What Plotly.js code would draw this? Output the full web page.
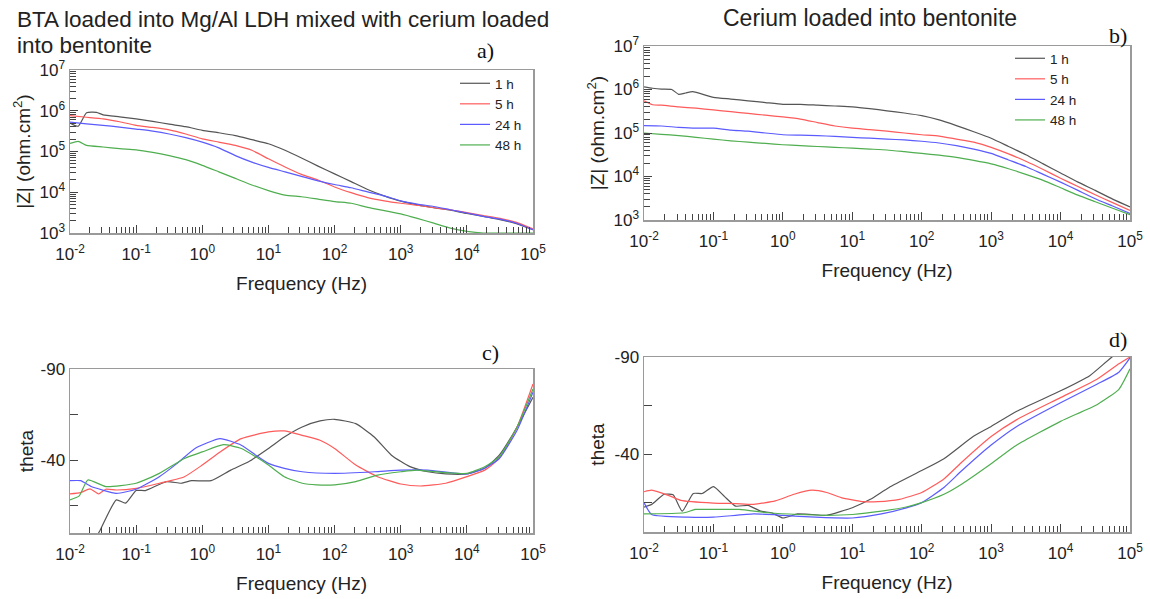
<!DOCTYPE html>
<html><head><meta charset="utf-8">
<script src="https://cdn.plot.ly/plotly-3.0.1.min.js"></script>
<style>html,body{margin:0;padding:0;background:#fff}#chart{width:1150px;height:599px}</style>
</head><body><div id="chart"></div>
<script>
// ---------- Data ----------
const seriesNames = ['1 h', '5 h', '24 h', '48 h'];
const freqQ = [0.01,0.0178,0.0316,0.0562,0.1,0.178,0.316,0.562,1,1.78,3.16,5.62,10,17.8,31.6,56.2,100,178,316,562,1000,1780,3160,5620,10000,17800,31600,56200,100000];
const freqQb = [0.01,0.0133,0.0178,0.0316,0.0562,0.1,0.178,0.316,0.562,1,1.78,3.16,5.62,10,17.8,31.6,56.2,100,178,316,562,1000,1780,3160,5620,10000,17800,31600,56200,100000];

// a) |Z| BTA-LDH + Ce-bentonite
const aFreq1 = [0.01,0.0133,0.0178,0.0251,0.0316,0.0562,0.1,0.178,0.316,0.562,1,1.78,3.16,5.62,10,17.8,31.6,56.2,100,178,316,562,1000,1780,3160,5620,10000,17800,31600,56200,100000];
const aZ1 = [5.01e5,4.17e5,8.91e5,9.12e5,7.94e5,7.08e5,6.31e5,5.50e5,4.68e5,4.07e5,3.31e5,2.88e5,2.45e5,1.95e5,1.55e5,1.07e5,6.92e4,4.37e4,2.82e4,1.82e4,1.17e4,8130,6030,4900,4170,3630,3020,2570,2140,1700,1200];
const aZ5 = [7.59e5,6.92e5,6.31e5,5.37e5,4.37e5,3.89e5,3.39e5,2.69e5,2.04e5,1.70e5,1.41e5,1.07e5,6.61e4,4.17e4,2.75e4,2.00e4,1.35e4,9770,7410,6170,5370,4790,4170,3720,3160,2690,2290,1820,1260];
const aZ24 = [5.25e5,4.79e5,4.37e5,3.98e5,3.55e5,3.16e5,2.69e5,2.19e5,1.70e5,1.23e5,7.94e4,5.50e4,4.07e4,3.16e4,2.45e4,1.91e4,1.55e4,1.29e4,1.02e4,8130,6170,5130,4470,3720,3090,2570,2190,1740,1200];
const aZ48 = [1.58e5,1.78e5,1.41e5,1.29e5,1.17e5,1.10e5,9.55e4,7.94e4,6.31e4,4.57e4,3.16e4,2.19e4,1.51e4,1.10e4,8510,7760,6760,5890,5370,4270,3550,2950,2290,1740,1320,1100,1000,1000,1000,1000];

// b) |Z| Ce-bentonite
const bFreq1 = [0.01,0.0133,0.0178,0.0251,0.0316,0.0398,0.0501,0.1,0.178,0.316,0.562,1,1.78,3.16,5.62,10,17.8,31.6,56.2,100,178,316,562,1000,1780,3160,5620,10000,17800,31600,56200,100000];
const bZ1 = [1.15e6,1.07e6,1.02e6,1.00e6,7.76e5,8.32e5,8.91e5,6.61e5,6.03e5,5.50e5,5.01e5,4.57e5,4.57e5,4.37e5,4.17e5,3.98e5,3.63e5,3.24e5,2.88e5,2.51e5,2.00e5,1.48e5,1.07e5,7.59e4,4.90e4,3.16e4,1.95e4,1.20e4,7410,4790,3020,2000];
const bZ5 = [5.50e5,4.47e5,4.37e5,3.98e5,3.72e5,3.39e5,3.09e5,2.82e5,2.57e5,2.34e5,2.09e5,1.74e5,1.45e5,1.29e5,1.20e5,1.10e5,1.00e5,9.12e4,8.51e4,7.24e4,6.17e4,4.68e4,3.31e4,2.24e4,1.45e4,9120,5890,3800,2510,1660];
const bZ24 = [1.48e5,1.45e5,1.35e5,1.29e5,1.29e5,1.17e5,1.10e5,1.00e5,9.12e4,8.91e4,8.71e4,8.32e4,7.94e4,7.59e4,7.24e4,6.92e4,6.46e4,5.89e4,5.13e4,4.27e4,3.39e4,2.40e4,1.70e4,1.12e4,7410,4790,3090,2090,1410];
const bZ48 = [1.00e5,9.33e4,8.71e4,7.94e4,7.24e4,6.61e4,6.17e4,5.75e4,5.37e4,5.13e4,4.90e4,4.68e4,4.47e4,4.27e4,4.07e4,3.72e4,3.39e4,3.09e4,2.75e4,2.34e4,1.95e4,1.51e4,1.12e4,8130,5500,3720,2630,1860,1320];

// c) phase BTA-LDH + Ce-bentonite
const cFreq1 = [0.0251,0.0288,0.0501,0.0692,0.1,0.138,0.288,0.479,0.692,1.36,2.69,5.01,10,17.4,32.4,60.3,100,209,398,724,1380,2570,4790,10000,18600,30900,57500,100000];
const cTh1 = [2,-1.8,-18.2,-16.4,-23.3,-23.3,-28.2,-27.3,-28.7,-28.7,-34.5,-39.1,-46.4,-52.7,-58.2,-61.5,-62.4,-60,-52.7,-42.7,-36.4,-33.6,-32.4,-32.4,-35.5,-42.7,-58.2,-74.5];
const cFreq5 = [0.01,0.0145,0.02,0.0269,0.0347,0.0501,0.1,0.224,0.537,1,1.86,3.89,10,17.4,32.4,60.3,100,209,447,1000,2000,4790,10000,18600,30900,57500,100000];
const cTh5 = [-21.5,-22.2,-24.2,-21.5,-24,-23.6,-24.5,-27.3,-30.9,-37.3,-44.5,-51.8,-55.5,-56,-53.6,-50.9,-46.4,-37.3,-30.9,-26.9,-25.8,-27.3,-30.9,-34.5,-40.9,-58.2,-81.8];
const cFreq24 = [0.01,0.0145,0.0209,0.0501,0.1,0.224,0.417,0.776,1.86,3.89,6.46,10,17.4,32.4,100,398,1000,2570,10000,18600,30900,57500,100000];
const cTh24 = [-28.7,-28.7,-25.5,-21.8,-24,-30.9,-38.2,-46.4,-51.8,-48.2,-42.7,-38.2,-35.5,-33.6,-32.7,-33.6,-34.5,-34.5,-32.4,-35.5,-40.9,-56.4,-77.3];
const cFreq48 = [0.01,0.0138,0.0186,0.0347,0.1,0.224,0.537,1,2.09,3.89,6.46,10,17.4,32.4,53.7,100,209,447,1000,1740,4790,10000,18600,30900,57500,100000];
const cTh48 = [-18.2,-20.4,-29.1,-25.5,-27.3,-32.7,-40.9,-44.5,-48.5,-46.4,-41.8,-37.3,-30.9,-27.3,-26.4,-26.4,-28.2,-31.8,-33.6,-34.5,-33.1,-32.7,-36.4,-41.8,-58.2,-79];

// d) phase Ce-bentonite
const dFreq1 = [0.01,0.0129,0.0195,0.0263,0.0355,0.0513,0.0692,0.1,0.145,0.209,0.316,0.479,0.692,1,1.62,2.63,4.27,10,18.2,33.9,100,209,550,1000,2340,10000,26300,55000,100000];
const dTh1 = [-12.8,-14.2,-19.4,-19.1,-10.7,-19.8,-19.8,-23.3,-18.2,-13.3,-13.7,-10.7,-9.9,-7.2,-9.3,-9.0,-8.6,-12.5,-16.8,-22.9,-31.6,-37.7,-49.1,-54.3,-62.1,-72.6,-80.4,-90,-96];
const dFreq5 = [0.01,0.0129,0.0234,0.0339,0.1,0.209,0.38,0.776,1.45,2.63,4.27,6.92,14.5,23.4,47.9,100,209,380,1000,2340,10000,33900,69200,100000];
const dTh5 = [-20.7,-21.5,-18.6,-16.3,-14.9,-14.6,-14.2,-16.0,-19.4,-21.5,-20.3,-17.7,-15.6,-15.6,-16.8,-20.3,-27.3,-36.0,-49.1,-57.8,-69.1,-78.7,-86.5,-90];
const dFreq24 = [0.01,0.0129,0.0427,0.1,0.38,1,2.95,10,26.3,61.7,100,209,380,1000,2340,10000,33900,69200,100000];
const dTh24 = [-15.1,-9.0,-7.6,-7.6,-9.3,-8.6,-7.6,-7.2,-9.3,-12.5,-15.1,-22.9,-31.6,-44.7,-54.3,-66.5,-76.1,-82.2,-89.5];
const dFreq48 = [0.01,0.038,0.055,0.1,0.234,0.617,1.62,4.27,10,26.3,61.7,100,209,380,1000,2340,10000,33900,69200,100000];
const dTh48 = [-9.3,-9.9,-11.6,-11.6,-11.6,-9.9,-9.0,-8.6,-9.0,-10.7,-13.0,-15.1,-19.4,-24.7,-35.1,-44.7,-56.9,-65.6,-73.4,-83.9];

// ticks
const xTickVals = [0.01,0.1,1,10,100,1000,10000,100000];
const xTickText = ['10<sup>-2</sup>','10<sup>-1</sup>','10<sup>0</sup>','10<sup>1</sup>','10<sup>2</sup>','10<sup>3</sup>','10<sup>4</sup>','10<sup>5</sup>'];
const zTickVals = [1e3,1e4,1e5,1e6,1e7];
const zTickText = ['10<sup>3</sup>','10<sup>4</sup>','10<sup>5</sup>','10<sup>6</sup>','10<sup>7</sup>'];
const thTickVals = [-90,-65,-40,-15];
const thTickText = ['-90','','-40',''];

// ---------- Styling ----------
const colors = ['#555555','#ff5b5b','#5b5bff','#4fae4f'];
const FONT = 'Liberation Sans, Arial, sans-serif';
function minorLog(lo, hi){ const v=[]; for(let e=lo;e<hi;e++){ for(let k=2;k<=9;k++){ v.push(k*Math.pow(10,e)); } } return v; }

const traces = [];
function addSet(xs, ys, xa, ya, legend, show){
  for(let i=0;i<4;i++){
    traces.push({x:xs[i], y:ys[i], xaxis:xa, yaxis:ya, type:'scatter', mode:'lines', name:seriesNames[i],
      line:{color:colors[i], width:1.2, shape:'spline', smoothing:0.5}, showlegend:show, legend:legend});
  }
}
addSet([aFreq1,freqQ,freqQ,freqQb],[aZ1,aZ5,aZ24,aZ48],'x','y','legend',true);
addSet([bFreq1,freqQb,freqQ,freqQ],[bZ1,bZ5,bZ24,bZ48],'x2','y2','legend2',true);
addSet([cFreq1,cFreq5,cFreq24,cFreq48],[cTh1,cTh5,cTh24,cTh48],'x3','y3','legend',false);
addSet([dFreq1,dFreq5,dFreq24,dFreq48],[dTh1,dTh5,dTh24,dTh48],'x4','y4','legend',false);

const W=1150, H=599;
const px = v => v/W, py = v => 1 - v/H;
const TICKFONT = {family:FONT, size:17, color:'#222'};
const TITLEFONT = {family:FONT, size:19, color:'#222'};
function xAxis(dom, anchor){
  return {domain:dom, anchor:anchor, type:'log', range:[-2,5], showgrid:false, zeroline:false,
    showline:true, mirror:true, linecolor:'#9a9a9a', linewidth:1.5,
    tickmode:'array', tickvals:xTickVals, ticktext:xTickText, ticks:'inside', ticklen:8, tickcolor:'#444', tickwidth:1,
    ticklabelstandoff:5,
    minor:{tickmode:'array', tickvals:minorLog(-2,5), ticks:'inside', ticklen:6, tickcolor:'#444', tickwidth:1, showgrid:false},
    tickfont:TICKFONT,
    title:{text:'Frequency (Hz)', font:TITLEFONT, standoff:14}};
}
function zAxis(dom, anchor){
  return {domain:dom, anchor:anchor, type:'log', range:[3,7], showgrid:false, zeroline:false,
    showline:true, mirror:true, linecolor:'#9a9a9a', linewidth:1.5,
    tickmode:'array', tickvals:zTickVals, ticktext:zTickText, ticks:'inside', ticklen:8, tickcolor:'#444', tickwidth:1,
    minor:{tickmode:'array', tickvals:minorLog(3,7), ticks:'inside', ticklen:6, tickcolor:'#444', tickwidth:1, showgrid:false},
    tickfont:TICKFONT,
    title:{text:'|Z| (ohm.cm<sup>2</sup>)', font:TITLEFONT, standoff:4}};
}
function thAxis(dom, anchor, so){
  return {domain:dom, anchor:anchor, range:[0,-90], showgrid:false, zeroline:false,
    showline:true, mirror:true, linecolor:'#9a9a9a', linewidth:1.5,
    tickmode:'array', tickvals:thTickVals, ticktext:thTickText, ticks:'inside', ticklen:8, tickcolor:'#444', tickwidth:1,
    tickfont:TICKFONT,
    title:{text:'theta', font:TITLEFONT, standoff:so}};
}

const SERIF = 'Liberation Serif, Times New Roman, serif';
const layout = {
  width:W, height:H, margin:{l:0,r:0,t:0,b:0}, paper_bgcolor:'#fff', plot_bgcolor:'#fff',
  showlegend:true,
  xaxis: xAxis([px(70),px(533)],'y'),
  yaxis: zAxis([py(233),py(70)],'x'),
  xaxis2: xAxis([px(644),px(1130)],'y2'),
  yaxis2: zAxis([py(220),py(46)],'x2'),
  xaxis3: xAxis([px(70),px(533)],'y3'),
  yaxis3: thAxis([py(533),py(369)],'x3',2),
  xaxis4: xAxis([px(644),px(1130)],'y4'),
  yaxis4: thAxis([py(532),py(357)],'x4',5),
  legend:{x:px(455), y:py(68), xanchor:'left', yanchor:'top', bgcolor:'rgba(0,0,0,0)', borderwidth:0,
    font:{family:FONT, size:13.5, color:'#222'}, tracegroupgap:0, itemwidth:30},
  legend2:{x:px(1010), y:py(43), xanchor:'left', yanchor:'top', bgcolor:'rgba(0,0,0,0)', borderwidth:0,
    font:{family:FONT, size:13.5, color:'#222'}, tracegroupgap:0, itemwidth:30},
  annotations:[
    {text:'BTA loaded into Mg/Al LDH mixed with cerium loaded', xref:'paper', yref:'paper',
      x:px(15), y:py(20), xanchor:'left', yanchor:'middle', align:'left', showarrow:false,
      font:{family:FONT, size:22.5, color:'#222'}},
    {text:'into bentonite', xref:'paper', yref:'paper',
      x:px(15), y:py(45), xanchor:'left', yanchor:'middle', align:'left', showarrow:false,
      font:{family:FONT, size:22.5, color:'#222'}},
    {text:'Cerium loaded into bentonite', xref:'paper', yref:'paper', x:px(870), y:py(18), xanchor:'center', yanchor:'middle',
      showarrow:false, font:{family:FONT, size:23, color:'#222'}},
    {text:'a)', xref:'paper', yref:'paper', x:px(485), y:py(50), xanchor:'center', yanchor:'middle', showarrow:false,
      font:{family:SERIF, size:22, color:'#111'}},
    {text:'b)', xref:'paper', yref:'paper', x:px(1118), y:py(36), xanchor:'center', yanchor:'middle', showarrow:false,
      font:{family:SERIF, size:22, color:'#111'}},
    {text:'c)', xref:'paper', yref:'paper', x:px(490), y:py(352), xanchor:'center', yanchor:'middle', showarrow:false,
      font:{family:SERIF, size:22, color:'#111'}},
    {text:'d)', xref:'paper', yref:'paper', x:px(1118), y:py(340), xanchor:'center', yanchor:'middle', showarrow:false,
      font:{family:SERIF, size:22, color:'#111'}}
  ]
};
Plotly.newPlot('chart', traces, layout, {displayModeBar:false, staticPlot:true});
</script></body></html>
